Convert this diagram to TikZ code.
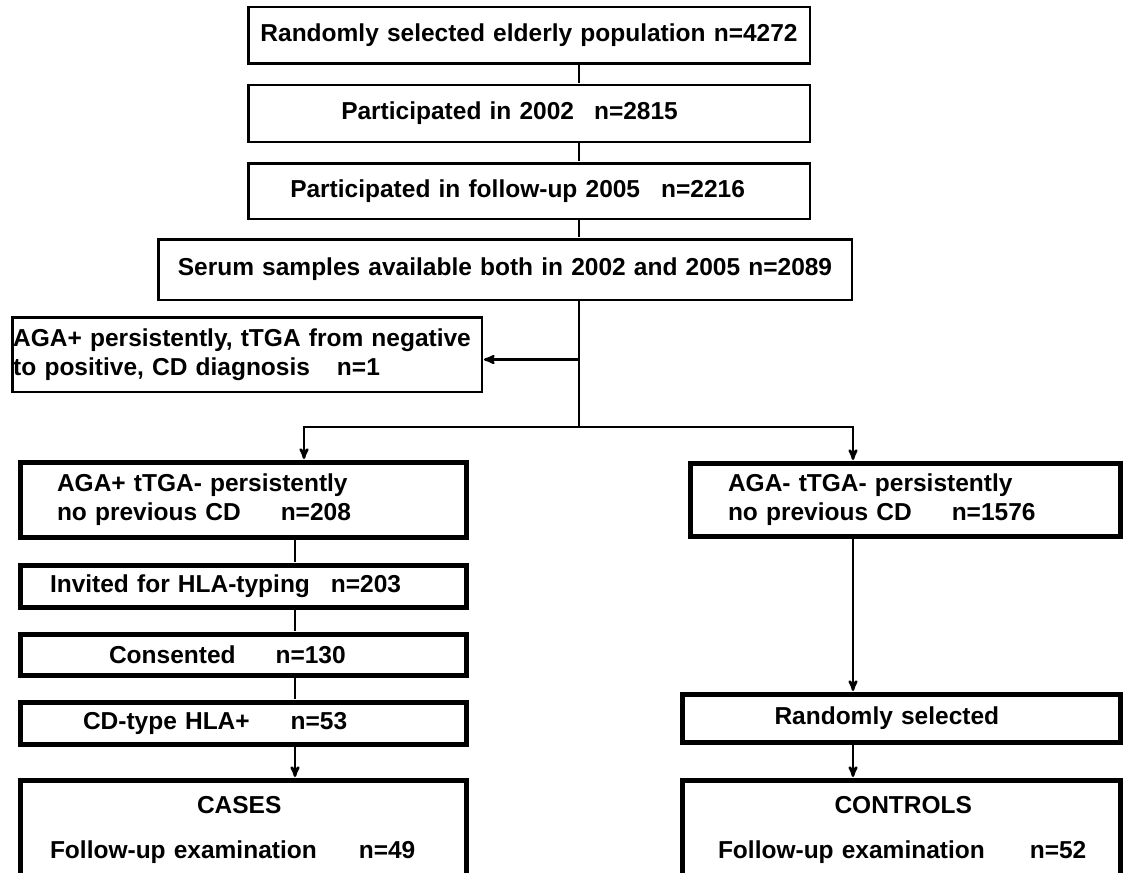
\documentclass[tikz,border=0pt]{standalone}
\usepackage{fontspec}
\setmainfont{Liberation Sans}
\usepackage{tikz}
\usetikzlibrary{arrows,positioning}

\begin{document}
\begin{tikzpicture}[x=1pt,y=-1pt,>=stealth',shorten >=1pt,node distance=78pt,on grid,line width=2.5pt,
	flowbox/.style={draw,line width=2.5pt,inner sep=0pt,align=left,font=\bfseries\fontsize{24.5}{29}\selectfont},
	thickbox/.style={flowbox,line width=5pt}]
		  \useasboundingbox (0,0) rectangle (1123,872);
		  \node[flowbox,align=center,text width=561.5pt,minimum height=56.5pt] (pop) at (529,35.5) {Randomly selected elderly population n=4272};
		  \node[flowbox,text width=561.5pt,minimum height=56.5pt] (part02) [below =of pop] {\hspace*{93pt}Participated in 2002\hspace{20pt}n=2815};
		  \node[flowbox,text width=561.5pt,minimum height=55.5pt] (part05) [below =77.5pt of part02] {\hspace*{42pt}Participated in follow-up 2005\hspace{21pt}n=2216};
		  \node[flowbox,align=center,text width=693.5pt,minimum height=60.5pt] (serum) [below left =78.5pt and 24pt of part05] {Serum samples available both in 2002 and 2005 n=2089};
		  \node[flowbox,text width=469.5pt,minimum height=74.5pt] (cddiag) at (247,354.5) {\hspace*{1pt}AGA+ persistently, tTGA from negative\\\hspace*{1pt}to positive, CD diagnosis\hspace{27pt}n=1};

		  % left branch
		  \node[thickbox,text width=446pt,minimum height=75pt] (agapos) at (243.5,500) {\hspace*{36.5pt}AGA+ tTGA- persistently\\\hspace*{36.5pt}no previous CD\hspace{40pt}n=208};
		  \node[thickbox,text width=446pt,minimum height=42pt] (invited) [below =86.5pt of agapos] {\hspace*{29.5pt}Invited for HLA-typing\hspace{21pt}n=203};
		  \node[thickbox,text width=446pt,minimum height=41pt] (consent) [below =68.5pt of invited] {\hspace*{88.5pt}Consented\hspace{40pt}n=130};
		  \node[thickbox,text width=446pt,minimum height=42pt] (cdtype) [below =68.5pt of consent] {\hspace*{62.5pt}CD-type HLA+\hspace{41pt}n=53};
		  \node[thickbox,text width=446pt,minimum height=99pt] (cases) [below =106.5pt of cdtype] {\hspace*{176.5pt}CASES\\[16pt]\hspace*{29.5pt}Follow-up examination\hspace{42pt}n=49};

		  % right branch
		  \node[thickbox,text width=430pt,minimum height=73pt] (aganeg) at (905.5,500) {\hspace*{37.5pt}AGA- tTGA- persistently\\\hspace*{37.5pt}no previous CD\hspace{40pt}n=1576};
		  \node[thickbox,text width=438pt,minimum height=48pt] (randsel) [below left =218.5pt and 4pt of aganeg] {\hspace*{92pt}Randomly selected};
		  \node[thickbox,text width=438pt,minimum height=99pt] (controls) [below =111.5pt of randsel] {\hspace*{152pt}CONTROLS\\[16pt]\hspace*{35.5pt}Follow-up examination\hspace{45pt}n=52};

		  \coordinate (trunk) at (579,427);
		  \coordinate (lsplit) at (304,427);
		  \coordinate (rsplit) at (853,427);
		  \coordinate (lcol) at (295,0);

		\draw (pop.south -| trunk) -- (part02.north -| trunk);
		\draw (part02.south -| trunk) -- (part05.north -| trunk);
		\draw (part05.south -| trunk) -- (serum.north -| trunk);
		\draw (serum.south -| trunk) -- (trunk);
		\draw[->] ([yshift=-5pt]cddiag.east -| trunk) -- ([yshift=-5pt]cddiag.east);
		\draw[->] (trunk) -- (lsplit) -- (agapos.north -| lsplit);
		\draw[->] (trunk) -- (rsplit) -- (aganeg.north -| rsplit);

		\draw (agapos.south -| lcol) -- (invited.north -| lcol);
		\draw (invited.south -| lcol) -- (consent.north -| lcol);
		\draw (consent.south -| lcol) -- (cdtype.north -| lcol);
		\draw[->] (cdtype.south -| lcol) -- (cases.north -| lcol);
		\draw[->] (aganeg.south -| rsplit) -- (randsel.north -| rsplit);
		\draw[->] (randsel.south -| rsplit) -- (controls.north -| rsplit);
\end{tikzpicture}
\end{document}
